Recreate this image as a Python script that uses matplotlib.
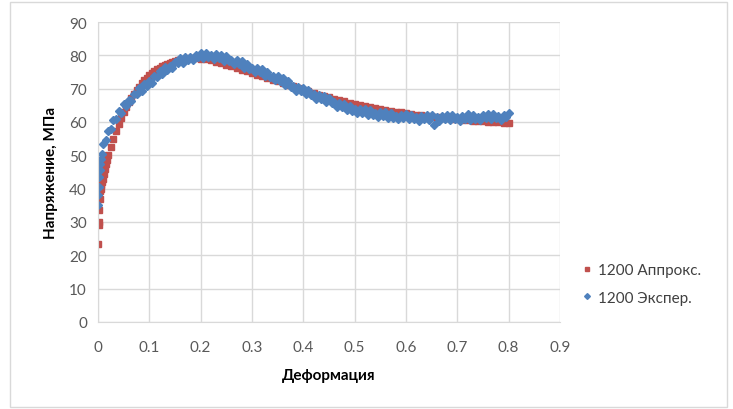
import numpy as np
import matplotlib
matplotlib.use("Agg")
import matplotlib.pyplot as plt
from matplotlib.patches import Rectangle

plt.rcParams['font.family'] = ['Lato', 'Noto Sans', 'DejaVu Sans']

# 1200 Аппрокс. (approximation)
approx_x = [0, 0.001, 0.0015, 0.002, 0.003, 0.004, 0.005, 0.006, 0.008,
            0.010, 0.012, 0.014, 0.016, 0.018, 0.020, 0.025, 0.030, 0.035,
            0.040, 0.045, 0.050, 0.055, 0.060, 0.065, 0.070, 0.075, 0.080,
            0.085, 0.090, 0.095, 0.100, 0.105, 0.110, 0.115, 0.120, 0.125,
            0.130, 0.135, 0.140, 0.145, 0.150, 0.155, 0.160] + \
    [round(0.01 * i, 2) for i in range(17, 81)]
approx_y = [23.5, 29.2, 30.0, 33.5, 36.8, 39.3, 40.0, 41.0, 42.0,
            43.0, 44.5, 46.0, 47.3, 48.7, 50.0, 52.6, 55.0, 57.3,
            59.4, 61.3, 63.0, 64.6, 66.0, 67.3, 68.5, 69.6, 70.6,
            71.6, 72.5, 73.3, 74.0, 74.7, 75.3, 75.8, 76.3, 76.8,
            77.2, 77.5, 77.8, 78.1, 78.3, 78.5, 78.7,
            79.0, 79.1, 79.1, 79.0,
            78.8, 78.5, 78.1, 77.7, 77.2, 76.7, 76.2, 75.7, 75.2, 74.7,
            74.2, 73.7, 73.2, 72.7, 72.2, 71.7, 71.2, 70.7, 70.2, 69.7,
            69.2, 68.7, 68.2, 67.8, 67.4, 67.0, 66.6, 66.2, 65.8, 65.5,
            65.2, 64.9, 64.6, 64.3, 64.0, 63.7, 63.4, 63.1, 62.9, 62.6,
            62.4, 62.2, 62.0, 61.8, 61.6, 61.4, 61.2, 61.1, 60.9, 60.8,
            60.6, 60.5, 60.4, 60.3, 60.2, 60.1, 60.0, 59.9, 59.8, 59.7]

# 1200 Экспер. (experiment)
exper_x = [0, 0.0005, 0.001, 0.002, 0.003, 0.004, 0.005, 0.007] + \
    [round(0.005 * i, 3) for i in range(2, 161)]
exper_y = [35.0, 38.0, 40.5, 43.5, 45.5, 47.5, 49.0, 50.5,
           53.3, 54.5, 57.2, 57.8, 60.6, 60.9, 63.3, 62.8, 65.3, 64.9,
           66.5, 66.2, 68.5, 68.3, 70.2, 69.3, 71.5, 70.8, 72.2, 71.7,
           73.9, 73.6, 75.4, 74.4, 76.5, 75.7, 76.9, 76.2, 78.1, 77.6,
           79.1, 77.8, 79.6, 78.5, 79.4, 78.5, 80.2, 79.5, 80.8, 79.3,
           80.8, 79.5, 80.1, 78.9, 80.3, 79.2, 80.2, 78.4, 79.7, 78.2,
           78.7, 77.3, 78.5, 77.3, 78.2, 76.3, 77.5, 75.9, 76.3, 74.9,
           76.1, 74.9, 75.8, 73.9, 75.1, 73.5, 73.9, 72.5, 73.7, 72.4,
           73.2, 71.2, 72.3, 70.6, 70.9, 69.4, 70.6, 69.4, 70.3, 68.4,
           69.6, 68.0, 68.4, 67.0, 68.2, 67.0, 67.9, 66.0, 67.2, 65.6,
           66.0, 64.6, 65.8, 64.6, 65.5, 63.6, 64.9, 63.4, 63.9, 62.6,
           63.9, 62.8, 63.8, 62.1, 63.5, 62.1, 62.7, 61.5, 62.9, 61.9,
           63.0, 61.3, 62.7, 61.3, 61.9, 60.8, 62.2, 61.3, 62.4, 60.8,
           62.2, 60.9, 61.6, 60.4, 61.9, 61.0, 62.2, 60.6, 62.1, 59.2,
           61.5, 60.4, 61.9, 61.0, 62.2, 60.6, 62.1, 60.8, 61.5, 60.4,
           61.9, 61.0, 62.3, 60.7, 62.2, 60.9, 61.6, 60.5, 62.1, 61.2,
           62.4, 60.8, 62.3, 61.1, 61.8, 60.7, 62.2, 61.4, 62.6]

xticks = np.arange(0, 0.91, 0.1)
xtick_labels = ["0", "0.1", "0.2", "0.3", "0.4", "0.5", "0.6", "0.7", "0.8", "0.9"]
yticks = np.arange(0, 91, 10)

red = "#C0504D"
blue = "#4F81BD"
grid = "#D9D9D9"

fig = plt.figure(figsize=(7.33, 4.10), dpi=100)
ax = fig.add_axes([0.1337, 0.2122, 0.6303, 0.7317])

ax.plot(approx_x, approx_y, ls="none", marker="s", ms=4.0, color=red,
        mec=red, label="1200 Аппрокс.")
ax.plot(exper_x, exper_y, ls="none", marker="D", ms=4.2, color=blue,
        mec=blue, label="1200 Экспер.")

ax.set_xlim(0, 0.9)
ax.set_ylim(0, 90)
ax.set_xticks(xticks)
ax.set_xticklabels(xtick_labels)
ax.set_yticks(yticks)
ax.grid(True, color=grid, lw=1)
ax.set_axisbelow(True)
for s in ["top", "right"]:
    ax.spines[s].set_visible(False)
for s in ["left", "bottom"]:
    ax.spines[s].set_color(grid)
ax.tick_params(length=0, colors="#595959", labelsize=11, pad=8)
ax.tick_params(axis="x", pad=13)

ax.set_xlabel("Деформация", fontsize=11, fontweight="bold", labelpad=10)
ax.set_ylabel("Напряжение, МПа", fontsize=11, fontweight="bold", labelpad=8)

fig.legend(loc="upper left", bbox_to_anchor=(0.772, 0.39), frameon=False,
           fontsize=11, handletextpad=0.2, labelspacing=0.9,
           markerscale=0.7, handlelength=1.0, labelcolor="#404040")

fig.add_artist(Rectangle((0.014, 0.006), 0.978, 0.986, transform=fig.transFigure,
                         fill=False, edgecolor="#D9D9D9", lw=1))

fig.savefig("out.png", dpi=100)
